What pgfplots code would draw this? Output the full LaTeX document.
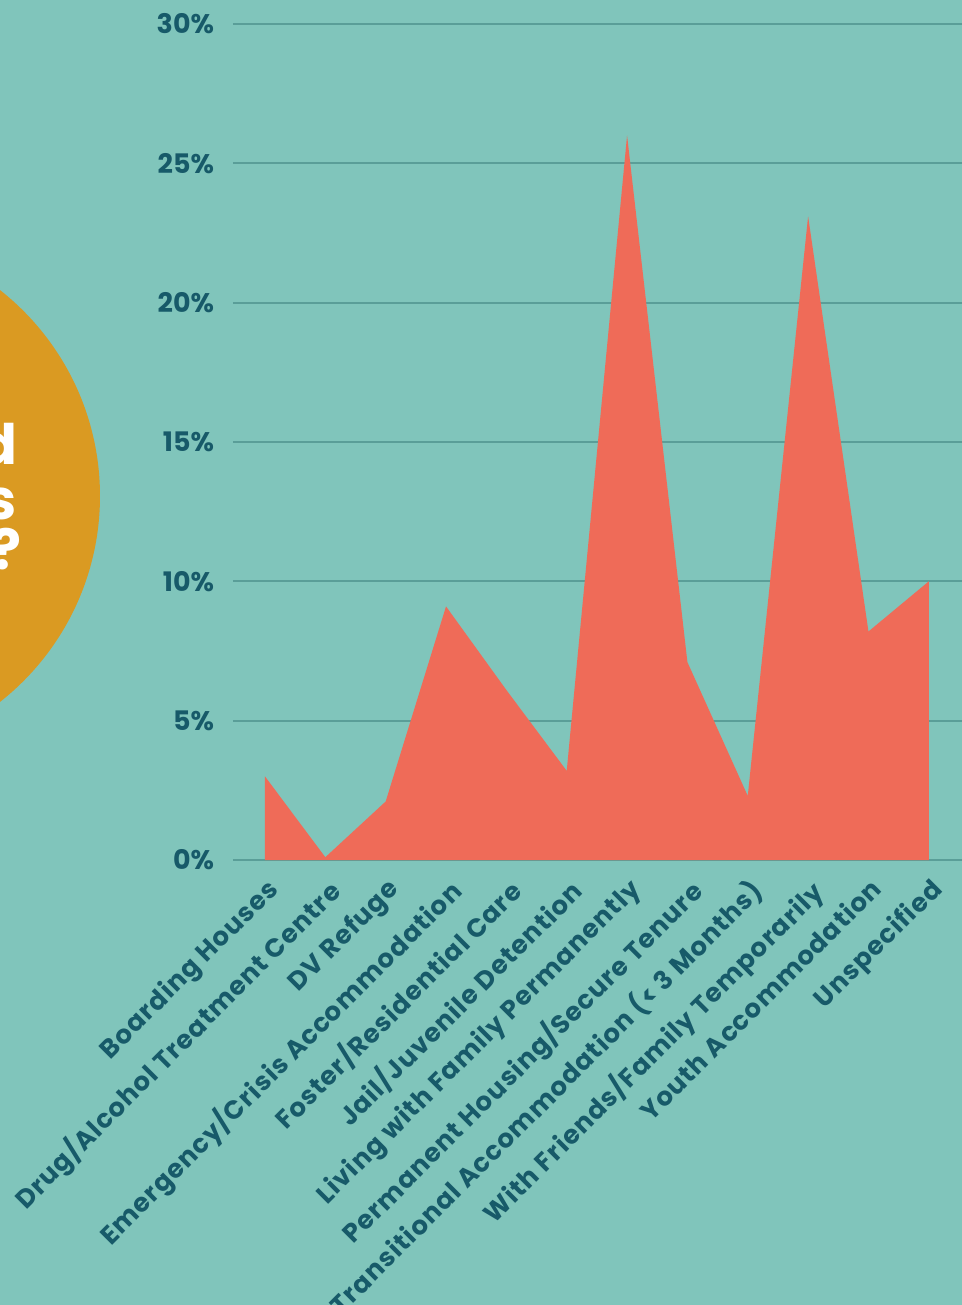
\documentclass[border=0pt]{standalone}
\usepackage{fontspec}
\setmainfont{Poppins}
\newfontfamily\labfont{Poppins}[LetterSpace=4]
\usepackage{pgfplots}
\pgfplotsset{compat=1.18}
\definecolor{bg}{HTML}{80C5BB}
\definecolor{coral}{HTML}{EF6B58}
\definecolor{gridc}{HTML}{5A9E98}
\definecolor{txt}{HTML}{175A69}
\definecolor{orangec}{HTML}{DA9A22}
\begin{document}
\begin{tikzpicture}
\path[use as bounding box] (-116.5bp,-222.5bp) rectangle (364.5bp,430bp);
\clip (-116.5bp,-222.5bp) rectangle (364.5bp,430bp);
\fill[bg] (-116.5bp,-222.5bp) rectangle (364.5bp,430bp);
\fill[orangec] (-197.5bp,182bp) circle (131bp);
\node[anchor=base east, inner sep=0, text=white, font=\fontsize{28}{28}\selectfont\bfseries] at (-107.5bp,197.5bp) {d};
\node[anchor=base east, inner sep=0, text=white, font=\fontsize{28}{28}\selectfont\bfseries] at (-108bp,170bp) {s};
\node[anchor=base east, inner sep=0, text=white, font=\fontsize{28}{28}\selectfont\bfseries] at (-105.5bp,145bp) {?};
\begin{axis}[
  at={(0bp,0bp)}, anchor=south west,
  scale only axis, width=364.5bp, height=418bp,
  xmin=-0.53, xmax=11.55, ymin=0, ymax=30,
  axis line style={draw=none},
  major tick length=0pt,
  ymajorgrids,
  grid style={gridc, line width=1bp},
  ytick={0,5,10,15,20,25,30},
  yticklabels={0\%,5\%,10\%,15\%,20\%,25\%,30\%},
  xtick={0,1,2,3,4,5,6,7,8,9,10,11},
  xticklabels={Boarding Houses,Drug/Alcohol Treatment Centre,DV Refuge,Emergency/Crisis Accommodation,Foster/Residential Care,Jail/Juvenile Detention,Living with Family Permanently,Permanent Housing/Secure Tenure,Transitional Accommodation (< 3 Months),With Friends/Family Temporarily,Youth Accommodation,Unspecified},
  xticklabel shift=5bp,
  x tick label style={rotate=45, anchor=north east, text=txt, font=\labfont\fontsize{13}{13}\selectfont\bfseries, inner sep=2bp},
  y tick label style={anchor=east, text=txt, font=\fontsize{13.5}{13.5}\selectfont\bfseries, xshift=-6bp},
]
\addplot[fill=coral, draw=none] coordinates {
(0,3.0) (1,0.1) (2,2.1) (3,9.1) (4,6.1) (5,3.2) (6,26.0) (7,7.1) (8,2.3) (9,23.1) (10,8.2) (11,10.0)
} \closedcycle;
\end{axis}
\end{tikzpicture}
\end{document}
